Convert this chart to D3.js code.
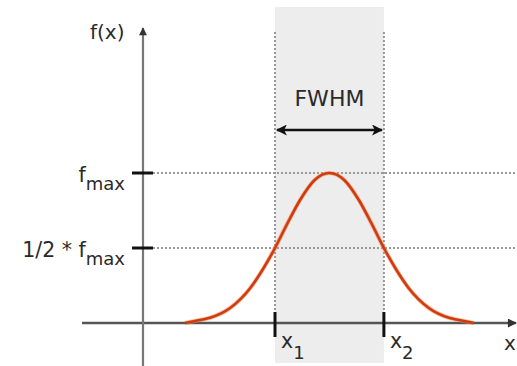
<!DOCTYPE html>
<html>
<head>
<meta charset="utf-8">
<script src="https://cdn.jsdelivr.net/npm/d3@7"></script>
<style>
  body { margin: 0; background: #fff; }
  text { font-family: "DejaVu Sans", sans-serif; fill: #2a2a2a; }
</style>
</head>
<body>
<div id="chart"></div>
<script>
// Curve (x in axis units, y as fraction of f_max)
const curveX = [1.27, 1.73, 2.03, 2.64, 3.24, 3.61, 4.0, 4.39, 4.76, 5.21, 5.65,
                6.09, 6.54, 6.91, 7.3, 7.69, 8.06, 8.66, 9.27, 9.57, 10.03]
const curveY = [0, 0.02, 0.035, 0.10, 0.23, 0.35, 0.5, 0.67, 0.82, 0.955, 1.0,
                0.955, 0.82, 0.67, 0.5, 0.35, 0.23, 0.10, 0.035, 0.02, 0]

// Levels and their labels
const levelValues = [1, 0.5]
const levelLabels = [["", "f", "max"], ["1/2 * ", "f", "max"]]
const halfPoints = [4.0, 7.3]
const halfLabels = ["1", "2"]

const width = 517, height = 366

const svg = d3.select("#chart").append("svg")
    .attr("width", width)
    .attr("height", height)

const x = d3.scaleLinear().domain([0, 1]).range([143, 176])
const y = d3.scaleLinear().domain([0, 1]).range([323, 173])

const defs = svg.append("defs")
defs.append("marker").attr("id", "arrowGray")
    .attr("viewBox", "0 0 10 10").attr("refX", 9).attr("refY", 5)
    .attr("markerWidth", 4.5).attr("markerHeight", 3.6)
    .attr("markerUnits", "strokeWidth").attr("orient", "auto")
    .append("path").attr("d", "M0,0L10,5L0,10Z").attr("fill", "#333")
defs.append("marker").attr("id", "arrowBlack")
    .attr("viewBox", "0 0 10 10").attr("refX", 9).attr("refY", 5)
    .attr("markerWidth", 5.2).attr("markerHeight", 4.4).attr("markerUnits", "strokeWidth")
    .attr("orient", "auto-start-reverse")
    .append("path").attr("d", "M0,0L10,5L0,10L2.5,5Z").attr("fill", "#111")

// Shaded FWHM band
svg.append("rect")
    .attr("x", x(halfPoints[0]))
    .attr("y", 7)
    .attr("width", x(halfPoints[1]) - x(halfPoints[0]))
    .attr("height", 356)
    .attr("fill", "#ededed")

// Dotted guides
svg.selectAll("line.vguide")
    .data(halfPoints)
    .join("line")
    .attr("class", "vguide")
    .attr("x1", d => x(d)).attr("x2", d => x(d))
    .attr("y1", 32).attr("y2", y(0))
    .attr("stroke", "#999").attr("stroke-width", 2)
    .attr("stroke-dasharray", "2,2")

svg.selectAll("line.hguide")
    .data(levelValues)
    .join("line")
    .attr("class", "hguide")
    .attr("x1", 153).attr("x2", width)
    .attr("y1", d => y(d)).attr("y2", d => y(d))
    .attr("stroke", "#999").attr("stroke-width", 2)
    .attr("stroke-dasharray", "2,2")

// Axes
svg.append("line")
    .attr("x1", 82).attr("x2", width - 1)
    .attr("y1", y(0)).attr("y2", y(0))
    .attr("stroke", "#555").attr("stroke-width", 2.5)
    .attr("marker-end", "url(#arrowGray)")

svg.append("line")
    .attr("x1", x(0)).attr("x2", x(0))
    .attr("y1", height).attr("y2", 28)
    .attr("stroke", "#777").attr("stroke-width", 2.2)
    .attr("marker-end", "url(#arrowGray)")

// Gaussian curve
const line = d3.line()
    .x((d, i) => x(curveX[i]))
    .y(d => y(d))
    .curve(d3.curveMonotoneX)

svg.append("path")
    .attr("d", line(curveY))
    .attr("fill", "none")
    .attr("stroke", "#f08a4b")
    .attr("stroke-width", 4.2)
    .attr("stroke-opacity", 0.6)
svg.append("path")
    .attr("d", line(curveY))
    .attr("fill", "none")
    .attr("stroke", "#cf3a12")
    .attr("stroke-width", 2.6)

// Ticks
svg.selectAll("line.ytick")
    .data(levelValues)
    .join("line")
    .attr("class", "ytick")
    .attr("x1", x(0) - 11).attr("x2", x(0) + 10)
    .attr("y1", d => y(d)).attr("y2", d => y(d))
    .attr("stroke", "#111").attr("stroke-width", 3)

svg.selectAll("line.xtick")
    .data(halfPoints)
    .join("line")
    .attr("class", "xtick")
    .attr("x1", d => x(d)).attr("x2", d => x(d))
    .attr("y1", y(0) - 11).attr("y2", y(0) + 14)
    .attr("stroke", "#111").attr("stroke-width", 3)

// Y labels
const ylab = svg.selectAll("text.ylab")
    .data(levelValues)
    .join("text")
    .attr("class", "ylab")
    .attr("x", 125)
    .attr("y", d => y(d) + 9)
    .attr("text-anchor", "end")
    .style("font-size", "20.5px")
ylab.append("tspan").text((d, i) => levelLabels[i][0] + levelLabels[i][1])
ylab.append("tspan").attr("dy", 8).style("font-size", "18px").text((d, i) => levelLabels[i][2])

svg.append("text")
    .attr("x", 90).attr("y", 39)
    .style("font-size", "20px")
    .text("f(x)")

// X labels
const xlab = svg.selectAll("text.xlab")
    .data(halfPoints)
    .join("text")
    .attr("class", "xlab")
    .attr("x", d => x(d) + 6)
    .attr("y", y(0) + 25)
    .style("font-size", "20.5px")
xlab.append("tspan").text("x")
xlab.append("tspan").attr("dy", 11).style("font-size", "18px").text((d, i) => halfLabels[i])

svg.append("text")
    .attr("x", 504).attr("y", y(0) + 27)
    .style("font-size", "20px")
    .text("x")

// FWHM arrow and label
svg.append("line")
    .attr("x1", x(halfPoints[0]) + 2).attr("x2", x(halfPoints[1]) - 2)
    .attr("y1", 130).attr("y2", 130)
    .attr("stroke", "#111").attr("stroke-width", 2.5)
    .attr("marker-start", "url(#arrowBlack)")
    .attr("marker-end", "url(#arrowBlack)")

svg.append("text")
    .attr("x", (x(halfPoints[0]) + x(halfPoints[1])) / 2)
    .attr("y", 106)
    .attr("text-anchor", "middle")
    .style("font-size", "22px")
    .text("FWHM")
</script>
</body>
</html>
